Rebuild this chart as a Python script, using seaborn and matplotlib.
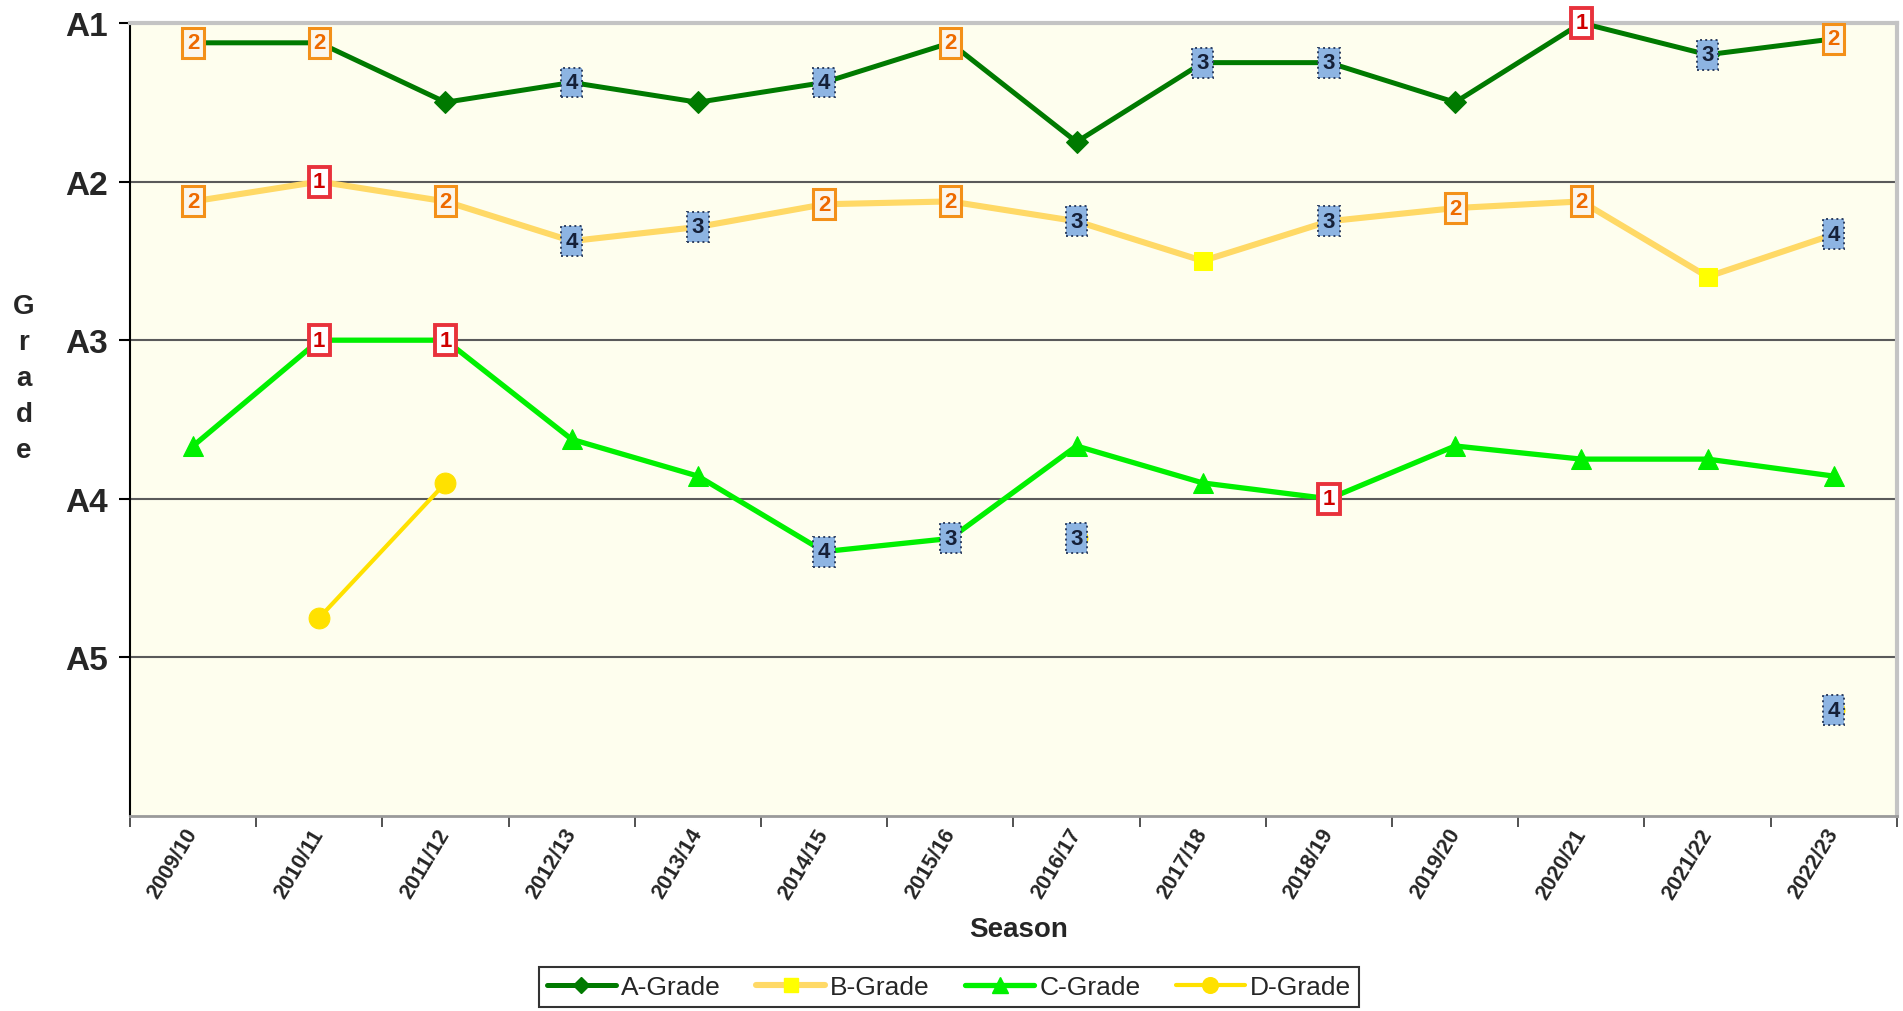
import numpy as np
import pandas as pd
import matplotlib.pyplot as plt
import seaborn as sns
from matplotlib.lines import Line2D


# season labels on the x axis
seasons = ['2009/10', '2010/11', '2011/12', '2012/13', '2013/14', '2014/15', '2015/16',
           '2016/17', '2017/18', '2018/19', '2019/20', '2020/21', '2021/22', '2022/23']

# grade position (1 = top of A1, each grade is one unit deep)
a_grade = [1.125, 1.125, 1.5, 1.375, 1.5, 1.375, 1.125, 1.75, 1.25, 1.25, 1.5, 1.0, 1.2, 1.1]
b_grade = [2.125, 2.0, 2.125, 2.375, 2.286, 2.143, 2.125, 2.25, 2.5, 2.25, 2.167, 2.125, 2.6, 2.333]
c_grade = [3.667, 3.0, 3.0, 3.625, 3.857, 4.333, 4.25, 3.667, 3.9, 4.0, 3.667, 3.75, 3.75, 3.857]
d_grade = [np.nan, 4.75, 3.9, np.nan, np.nan, np.nan, np.nan, 4.25, np.nan, np.nan,
           np.nan, np.nan, np.nan, 5.333]

# finishing position badges (None = plain marker)
a_rank = [2, 2, None, 4, None, 4, 2, None, 3, 3, None, 1, 3, 2]
b_rank = [2, 1, 2, 4, 3, 2, 2, 3, None, 3, 2, 2, None, 4]
c_rank = [None, 1, 1, None, None, 4, 3, None, None, 1, None, None, None, None]
d_rank = [None, None, None, None, None, None, None, 3, None, None, None, None, None, 4]

grade_labels = ['A1', 'A2', 'A3', 'A4', 'A5']


##################################################################
# STYLE
##################################################################

sns.set_style('white')
plt.rcParams['font.family'] = ['Liberation Sans', 'DejaVu Sans']

styles = {
    'A-Grade': dict(color='#007A00', lw=3.6, marker='D', ms=11, mfc='#007A00', mec='#007A00'),
    'B-Grade': dict(color='#FFD966', lw=4.4, marker='s', ms=13, mfc='#FFFF00', mec='#FFFF00'),
    'C-Grade': dict(color='#00F000', lw=3.8, marker='^', ms=15, mfc='#00F000', mec='#00F000'),
    'D-Grade': dict(color='#FFE100', lw=3.0, marker='o', ms=15, mfc='#FFE100', mec='#FFE100'),
}

badge_styles = {
    1: dict(fc='white', ec='#E8323C', tc='#D00000', lw=2.8, ls='-'),
    2: dict(fc='#FBF6EC', ec='#F39019', tc='#EE6A00', lw=2.2, ls='-'),
    3: dict(fc='#8DB4E2', ec='#2E3F60', tc='#152038', lw=1.4, ls=':'),
    4: dict(fc='#8DB4E2', ec='#2E3F60', tc='#152038', lw=1.4, ls=':'),
}

data = {
    'A-Grade': (a_grade, a_rank),
    'B-Grade': (b_grade, b_rank),
    'C-Grade': (c_grade, c_rank),
    'D-Grade': (d_grade, d_rank),
}


##################################################################
# PLOTTING
##################################################################

fig = plt.figure(figsize=(19.03, 10.12), dpi=100)
ax = fig.add_axes([0.0683, 0.1927, 0.9285, 0.7836])
ax.set_facecolor('#FEFEEE')

for name, (vals, ranks) in data.items():
    st = styles[name]
    df = pd.DataFrame({'x': range(len(seasons)), 'y': vals})
    run = df['y'].isna().cumsum()
    # draw each unbroken run separately so gaps stay open
    for _, seg in df.dropna().groupby(run[df['y'].notna()]):
        sns.lineplot(data=seg, x='x', y='y', ax=ax, color=st['color'], lw=st['lw'],
                     marker=st['marker'], markersize=st['ms'], markerfacecolor=st['mfc'],
                     markeredgecolor=st['mec'], estimator=None, sort=False,
                     legend=False, zorder=3)
    # position badges on top of the markers
    for i, r in enumerate(ranks):
        if r is None:
            continue
        b = badge_styles[r]
        ax.text(i, vals[i], str(r), ha='center', va='center', fontsize=16,
                fontweight='bold', color=b['tc'], fontstretch='condensed',
                family=['Liberation Sans Narrow', 'Liberation Sans', 'DejaVu Sans'],
                zorder=6,
                bbox=dict(boxstyle='square,pad=0.2', fc=b['fc'], ec=b['ec'],
                          lw=b['lw'], ls=b['ls']))

# axes limits and ticks
ax.set_ylim(6, 1)
ax.set_yticks([1, 2, 3, 4, 5])
ax.set_yticklabels(grade_labels, fontsize=24, fontweight='bold')
ax.set_xlim(-0.5, len(seasons) - 0.5)
ax.set_xticks(np.arange(-0.5, len(seasons), 1))
ax.set_xticklabels([])
ax.set_xticks(range(len(seasons)), labels=seasons, minor=True)
plt.setp(ax.get_xticklabels(minor=True), rotation=59, ha='right', va='center',
         rotation_mode='anchor', fontsize=15.5, fontweight='bold')

ax.tick_params(axis='y', which='major', left=True, direction='out', length=8,
               width=1.5, color='black', pad=8)
ax.tick_params(axis='x', which='major', bottom=True, direction='out', length=8,
               width=1.2, color='#333333')
ax.tick_params(axis='x', which='minor', bottom=True, length=0, pad=10)

ax.set_xlabel('')
ax.set_ylabel('')
ax.grid(axis='y', color='#5A5A5A', lw=1.5, zorder=1)
ax.grid(axis='x', visible=False)

for side in ['top', 'right']:
    ax.spines[side].set_color('#C4C4C4')
    ax.spines[side].set_linewidth(3)
ax.spines['left'].set_color('black')
ax.spines['left'].set_linewidth(1.5)
ax.spines['bottom'].set_color('#9A9A9A')
ax.spines['bottom'].set_linewidth(2)

# axis titles
fig.text(24 / 1903, 0.625, 'G\nr\na\nd\ne', ha='center', va='center', fontsize=20,
         fontweight='bold', linespacing=1.5)
fig.text(1019 / 1903, 0.081, 'Season', ha='center', va='center', fontsize=20,
         fontweight='bold')

# legend
handles = []
for name, st in styles.items():
    handles.append(Line2D([0], [0], color=st['color'], lw=st['lw'], marker=st['marker'],
                          markersize=st['ms'] * 0.75, markerfacecolor=st['mfc'],
                          markeredgecolor=st['mec']))
leg = fig.legend(handles, list(styles.keys()), loc='center', bbox_to_anchor=(0.4987, 0.0237),
                 ncol=4, fontsize=19, frameon=True, fancybox=False, edgecolor='black',
                 handlelength=2.6, handletextpad=0.2, columnspacing=1.35, borderpad=0.3)
leg.get_frame().set_linewidth(1.5)

fig.savefig('out.png', dpi=100)
